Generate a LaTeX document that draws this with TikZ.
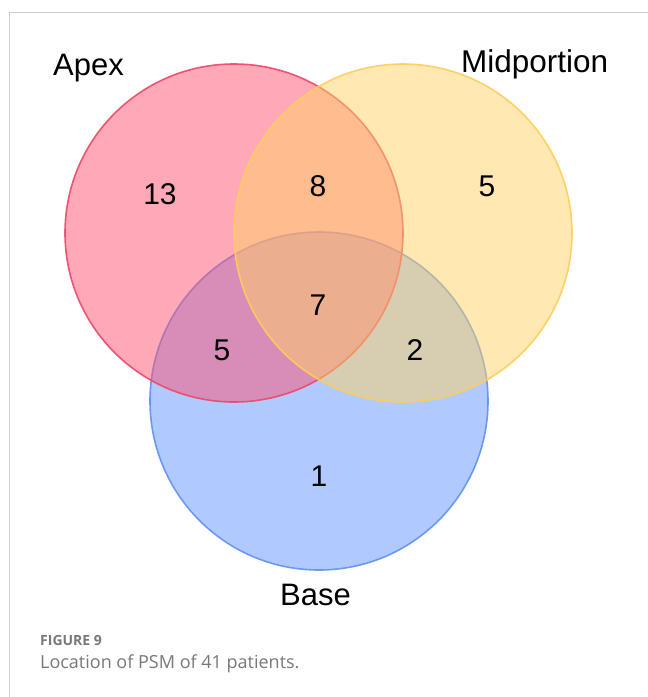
\documentclass[tikz,border=0pt]{standalone}
\usepackage{fontspec}
\setmainfont{Liberation Sans}
\newfontfamily\capfont{Open Sans}
\definecolor{apexfill}{RGB}{255,81,113}
\definecolor{midfill}{RGB}{255,209,101}
\definecolor{basefill}{RGB}{97,149,255}
\definecolor{apexline}{RGB}{238,70,105}
\definecolor{midline}{RGB}{255,205,90}
\definecolor{baseline}{RGB}{95,145,240}
\definecolor{framegray}{RGB}{205,205,205}
\definecolor{capgray}{RGB}{120,120,120}
\tikzset{
  setcircle/.style={circle, minimum size=338pt, inner sep=0pt, line width=1.6pt, fill opacity=0.5, draw opacity=0.9},
  setlabel/.style={font=\fontsize{31}{36}\selectfont, inner sep=0pt, anchor=base west},
  count/.style={font=\fontsize{30}{34}\selectfont, inner sep=0pt, anchor=center},
}
\begin{document}
\begin{tikzpicture}[x=1pt,y=-1pt]
\useasboundingbox (0,0) rectangle (648,697);
\draw[framegray, line width=1pt] (9,697) -- (9,12) -- (648,12);
% circles (order: base, apex, midportion)
\node[setcircle, fill=basefill, draw=baseline] (base) at (319,401) {};
\node[setcircle, fill=apexfill, draw=apexline] (apex) at (234,233) {};
\node[setcircle, fill=midfill, draw=midline] (mid) at (403,233) {};
% set labels
\node[setlabel] (lapex) at (53,75) {Apex};
\node[setlabel] (lmid) at (461,72) {\fontsize{31.5}{36}\selectfont Midportion};
\node[setlabel] (lbase) at (280,605) {Base};
% counts
\node[count] (n13) at (160,194) {13};
\node[count] (n8) at (318,186) {8};
\node[count] (n5m) at (487,186) {5};
\node[count] (n7) at (318,305) {7};
\node[count] (n5b) at (222,350) {5};
\node[count] (n2) at (415,350) {2};
\node[count] (n1) at (319,476) {1};
% caption
\node[inner sep=0pt, anchor=base west, text=capgray, font=\capfont\bfseries\fontsize{14}{16}\selectfont] (fig) at (40,645) {FIGURE 9};
\node[inner sep=0pt, anchor=base west, text=capgray, font=\capfont\fontsize{18}{21}\selectfont] (cap) at (40,668) {Location of PSM of 41 patients.};
\end{tikzpicture}
\end{document}
